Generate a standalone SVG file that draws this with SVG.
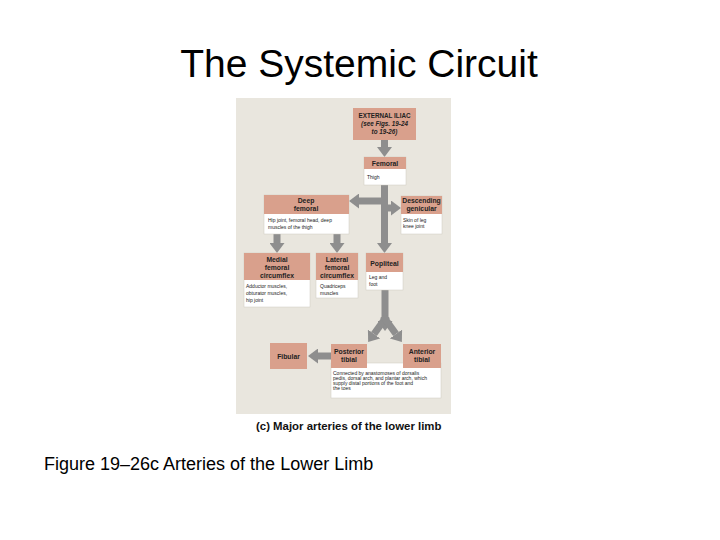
<svg xmlns="http://www.w3.org/2000/svg" width="720" height="540" viewBox="0 0 720 540">
<style>
.title{font-family:"Liberation Sans",Arial,sans-serif;font-size:39px;fill:#000;text-anchor:middle}
.cap{font-family:"Liberation Sans",Arial,sans-serif;font-size:18px;fill:#000}
.fig{font-family:"Liberation Sans",Arial,sans-serif;font-size:11.4px;font-weight:bold;fill:#111}
.hd{fill:#d9a08c}
.bd{fill:#fff;stroke:#cfcac0;stroke-width:0.5}
.h{font-family:"Liberation Sans",Arial,sans-serif;font-size:6.8px;font-weight:bold;fill:#222;text-anchor:middle}
.hi{font-style:italic}
.b{font-family:"Liberation Sans",Arial,sans-serif;font-size:5px;fill:#222}
.ar{stroke:#8e8e8e;stroke-width:7;fill:none;marker-end:url(#ah)}
</style>
<defs>
<marker id="ah" markerUnits="userSpaceOnUse" markerWidth="10" markerHeight="15" refX="0" refY="7.5" orient="auto" viewBox="0 0 10 15">
<path d="M0,0 L10,7.5 L0,15 z" fill="#8e8e8e"/>
</marker>
</defs>
<rect width="720" height="540" fill="#fff"/>
<text class="title" x="359" y="77">The Systemic Circuit</text>
<rect x="236" y="98" width="215" height="316" fill="#e9e6de"/>

<g id="connectors">
<line class="ar" x1="384.5" y1="140" x2="384.5" y2="147"/>
<line class="ar" x1="384.5" y1="185" x2="384.5" y2="243"/>
<line class="ar" x1="388" y1="201" x2="359" y2="201"/>
<line class="ar" x1="384.5" y1="208" x2="391" y2="208"/>
<line class="ar" x1="277" y1="234" x2="277" y2="243"/>
<line class="ar" x1="337" y1="234" x2="337" y2="243"/>
<line class="ar" x1="385" y1="290" x2="385" y2="321"/>
<line class="ar" x1="387" y1="316" x2="374" y2="334"/>
<line class="ar" x1="383" y1="316" x2="396" y2="334"/>
<line class="ar" x1="331" y1="356" x2="318" y2="356"/>
</g>

<g id="external-iliac">
<rect class="hd" x="353" y="108" width="63" height="32"/>
<text class="h" x="384.5" y="118" style="font-size:6.3px">EXTERNAL ILIAC</text>
<text class="h hi" x="384.5" y="126" style="font-size:6.3px">(see Figs. 19-24</text>
<text class="h hi" x="384.5" y="134" style="font-size:6.3px">to 19-26)</text>
</g>

<g id="femoral">
<rect class="bd" x="364" y="157" width="42" height="28"/>
<rect class="hd" x="364" y="157" width="42" height="12"/>
<text class="h" x="385" y="166">Femoral</text>
<text class="b" x="367" y="179">Thigh</text>
</g>

<g id="deep-femoral">
<rect class="bd" x="264" y="195" width="85" height="39"/>
<rect class="hd" x="264" y="195" width="85" height="19"/>
<text class="h" x="306" y="203">Deep</text>
<text class="h" x="306" y="211">femoral</text>
<text class="b" x="268" y="222">Hip joint, femoral head, deep</text>
<text class="b" x="268" y="229">muscles of the thigh</text>
</g>

<g id="descending-genicular">
<rect class="bd" x="401" y="196" width="41" height="38"/>
<rect class="hd" x="401" y="196" width="41" height="18"/>
<text class="h" x="421.5" y="203">Descending</text>
<text class="h" x="421.5" y="211">genicular</text>
<text class="b" x="403" y="222">Skin of leg</text>
<text class="b" x="403" y="228">knee joint</text>
</g>

<g id="medial-femoral-circumflex">
<rect class="bd" x="244" y="253" width="66" height="54"/>
<rect class="hd" x="244" y="253" width="66" height="27"/>
<text class="h" x="277" y="262">Medial</text>
<text class="h" x="277" y="270">femoral</text>
<text class="h" x="277" y="277.5">circumflex</text>
<text class="b" x="246" y="288">Adductor muscles,</text>
<text class="b" x="246" y="295">obturator muscles,</text>
<text class="b" x="246" y="302">hip joint</text>
</g>

<g id="lateral-femoral-circumflex">
<rect class="bd" x="316" y="253" width="42" height="45"/>
<rect class="hd" x="316" y="253" width="42" height="27"/>
<text class="h" x="337" y="262">Lateral</text>
<text class="h" x="337" y="270">femoral</text>
<text class="h" x="337" y="277.5">circumflex</text>
<text class="b" x="320" y="288">Quadriceps</text>
<text class="b" x="320" y="295">muscles</text>
</g>

<g id="popliteal">
<rect class="bd" x="366" y="253" width="37" height="37"/>
<rect class="hd" x="366" y="253" width="37" height="19"/>
<text class="h" x="384.5" y="266">Popliteal</text>
<text class="b" x="369" y="279">Leg and</text>
<text class="b" x="369" y="285.5">foot</text>
</g>

<g id="fibular">
<rect class="hd" x="270" y="343" width="37" height="26"/>
<text class="h" x="288.5" y="358.5">Fibular</text>
</g>

<g id="tibial-note">
<rect class="bd" x="331" y="363" width="110" height="35"/>
<text class="b" x="333" y="375">Connected by anastomoses of dorsalis</text>
<text class="b" x="333" y="380">pedis, dorsal arch, and plantar arch, which</text>
<text class="b" x="333" y="385">supply distal portions of the foot and</text>
<text class="b" x="333" y="390">the toes</text>
</g>

<g id="posterior-tibial">
<rect class="hd" x="331" y="344" width="36" height="24"/>
<text class="h" x="349" y="354">Posterior</text>
<text class="h" x="349" y="362">tibial</text>
</g>

<g id="anterior-tibial">
<rect class="hd" x="403" y="344" width="38" height="24"/>
<text class="h" x="422" y="354">Anterior</text>
<text class="h" x="422" y="362">tibial</text>
</g>

<text class="fig" x="256" y="430">(c) Major arteries of the lower limb</text>
<text class="cap" x="44" y="470">Figure 19‒26c Arteries of the Lower Limb</text>
</svg>
